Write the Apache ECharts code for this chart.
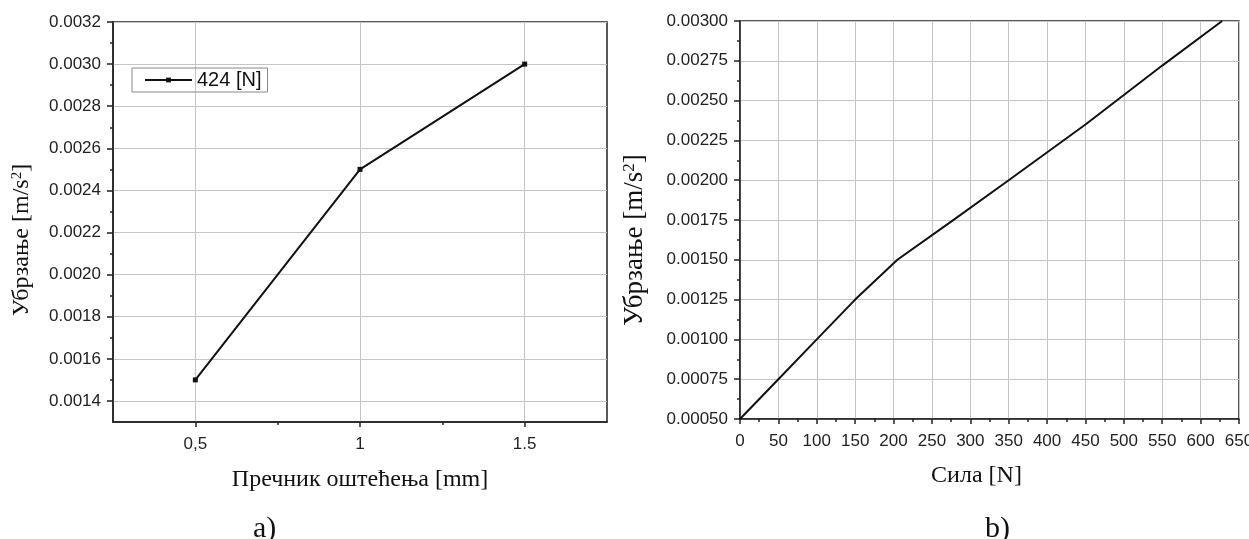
<!DOCTYPE html>
<html>
<head>
<meta charset="utf-8">
<script src="https://cdn.jsdelivr.net/npm/echarts@6/dist/echarts.min.js"></script>
<style>
html,body{margin:0;padding:0;background:#fff;}
#c{width:1249px;height:539px;}
</style>
</head>
<body>
<div id="c"></div>
<script>
// ---- Data: chart a) ----
const damageDiameter = [0.5, 1, 1.5];             // mm
const damageTickLabels = ['0,5', '1', '1.5'];
const accelA = [0.0015, 0.0025, 0.0030];           // m/s^2
const seriesNameA = '424 [N]';
const yTicksA = [0.0014, 0.0016, 0.0018, 0.0020, 0.0022, 0.0024, 0.0026, 0.0028, 0.0030, 0.0032];
const yMinorA = [0.0015, 0.0017, 0.0019, 0.0021, 0.0023, 0.0025, 0.0027, 0.0029, 0.0031];
const xMinorA = [0.75, 1.25];

// ---- Data: chart b) ----
const forceN = [0, 50, 100, 150, 205, 275, 350, 450, 550, 628];
const accelB = [0.0005, 0.00075, 0.0010, 0.00125, 0.0015, 0.00174, 0.0020, 0.00235, 0.00272, 0.0030];

const axisColor = '#222';
const gridColor = '#c4c4c4';
const sans = 'Liberation Sans';
const serif = 'Liberation Serif';
const labelSize = 17;

const chart = echarts.init(document.getElementById('c'), null, {renderer: 'canvas'});

const yNameRich = (size) => ({
  sup: {fontSize: Math.round(size * 0.62), fontFamily: serif, color: '#111', verticalAlign: 'top', padding: [0, 0, Math.round(size * 0.35), 0]}
});

const option = {
  animation: false,
  backgroundColor: '#fff',
  title: [
    {text: 'a)', left: 253, top: 514, padding: 0, textStyle: {fontFamily: serif, fontSize: 30, fontWeight: 'normal', color: '#111'}},
    {text: 'b)', left: 985, top: 514, padding: 0, textStyle: {fontFamily: serif, fontSize: 30, fontWeight: 'normal', color: '#111'}}
  ],
  legend: {
    data: [seriesNameA],
    left: 132, top: 68,
    orient: 'horizontal',
    padding: [2, 6, 2, 12],
    itemWidth: 47, itemHeight: 6, itemGap: 5,
    borderColor: '#888', borderWidth: 1,
    textStyle: {fontFamily: sans, fontSize: 20, color: '#111'}
  },
  grid: [
    {left: 113, top: 22, width: 494, height: 400, show: true, borderColor: axisColor, borderWidth: 1.5, backgroundColor: 'transparent', containLabel: false, outerBoundsMode: 'none'},
    {left: 740, top: 21, width: 499, height: 398, show: true, borderColor: axisColor, borderWidth: 1.5, backgroundColor: 'transparent', containLabel: false, outerBoundsMode: 'none'}
  ],
  xAxis: [
    {
      gridIndex: 0, type: 'value', position: 'bottom', min: 0.25, max: 1.75,
      name: 'Пречник оштећења [mm]', nameLocation: 'middle', nameGap: 46,
      nameTextStyle: {fontFamily: serif, fontSize: 24, color: '#111'},
      axisLine: {show: true, onZero: false, lineStyle: {color: axisColor, width: 1.5}},
      axisTick: {show: true, customValues: damageDiameter, length: 5, lineStyle: {color: axisColor, width: 1.5}},
      axisLabel: {customValues: damageDiameter, margin: 14, fontFamily: sans, fontSize: labelSize, color: '#222',
        formatter: (v) => { const i = damageDiameter.findIndex(d => Math.abs(d - v) < 1e-9); return i >= 0 ? damageTickLabels[i] : ''; }},
      splitLine: {show: true, lineStyle: {color: gridColor, width: 1}}
    },
    {
      gridIndex: 0, type: 'value', position: 'bottom', min: 0.25, max: 1.75,
      axisLine: {show: false, onZero: false},
      axisTick: {show: true, customValues: xMinorA, length: 3, lineStyle: {color: axisColor, width: 1.5}},
      axisLabel: {show: false},
      splitLine: {show: false}
    },
    {
      gridIndex: 1, type: 'value', position: 'bottom', min: 0, max: 650, interval: 50,
      name: 'Сила [N]', nameLocation: 'middle', nameGap: 45,
      nameTextStyle: {fontFamily: serif, fontSize: 24, color: '#111', padding: [0, 26, 0, 0]},
      axisLine: {show: true, onZero: false, lineStyle: {color: axisColor, width: 1.5}},
      axisTick: {show: true, length: 5, lineStyle: {color: axisColor, width: 1.5}},
      minorTick: {show: true, splitNumber: 2, length: 3, lineStyle: {color: axisColor, width: 1.5}},
      axisLabel: {margin: 14, fontFamily: sans, fontSize: labelSize, color: '#222', hideOverlap: false, showMaxLabel: true, showMinLabel: true},
      splitLine: {show: true, lineStyle: {color: gridColor, width: 1}}
    }
  ],
  yAxis: [
    {
      gridIndex: 0, type: 'value', position: 'left', min: 0.0013, max: 0.0032,
      name: 'Убрзање [m/s{sup|2}]', nameLocation: 'middle', nameGap: 79,
      nameTextStyle: {fontFamily: serif, fontSize: 24, color: '#111', padding: [0, 36, 0, 0], rich: yNameRich(24)},
      axisLine: {show: true, onZero: false, lineStyle: {color: axisColor, width: 1.5}},
      axisTick: {show: true, customValues: yTicksA, length: 6, lineStyle: {color: axisColor, width: 1.5}},
      axisLabel: {customValues: yTicksA, margin: 12, fontFamily: sans, fontSize: labelSize, color: '#222', formatter: (v) => v.toFixed(4)},
      splitLine: {show: true, lineStyle: {color: gridColor, width: 1}}
    },
    {
      gridIndex: 0, type: 'value', position: 'left', min: 0.0013, max: 0.0032,
      axisLine: {show: false, onZero: false},
      axisTick: {show: true, customValues: yMinorA, length: 3, lineStyle: {color: axisColor, width: 1.5}},
      axisLabel: {show: false},
      splitLine: {show: false}
    },
    {
      gridIndex: 1, type: 'value', position: 'left', min: 0.0005, max: 0.003, interval: 0.00025,
      name: 'Убрзање [m/s{sup|2}]', nameLocation: 'middle', nameGap: 92,
      nameTextStyle: {fontFamily: serif, fontSize: 27, color: '#111', padding: [0, 40, 0, 0], rich: yNameRich(27)},
      axisLine: {show: true, onZero: false, lineStyle: {color: axisColor, width: 1.5}},
      axisTick: {show: true, length: 6, lineStyle: {color: axisColor, width: 1.5}},
      minorTick: {show: true, splitNumber: 2, length: 3, lineStyle: {color: axisColor, width: 1.5}},
      axisLabel: {margin: 12, fontFamily: sans, fontSize: labelSize, color: '#222', formatter: (v) => v.toFixed(5)},
      splitLine: {show: true, lineStyle: {color: gridColor, width: 1}}
    }
  ],
  series: [
    {
      name: seriesNameA, type: 'line', xAxisIndex: 0, yAxisIndex: 0,
      data: damageDiameter.map((d, i) => [d, accelA[i]]),
      symbol: 'rect', symbolSize: 5, showSymbol: true,
      itemStyle: {color: '#111'},
      lineStyle: {color: '#111', width: 2}
    },
    {
      name: 'b', type: 'line', xAxisIndex: 2, yAxisIndex: 2,
      data: forceN.map((f, i) => [f, accelB[i]]),
      showSymbol: false, symbol: 'none',
      lineStyle: {color: '#111', width: 2},
      clip: true
    }
  ]
};
chart.setOption(option);
</script>
</body>
</html>
